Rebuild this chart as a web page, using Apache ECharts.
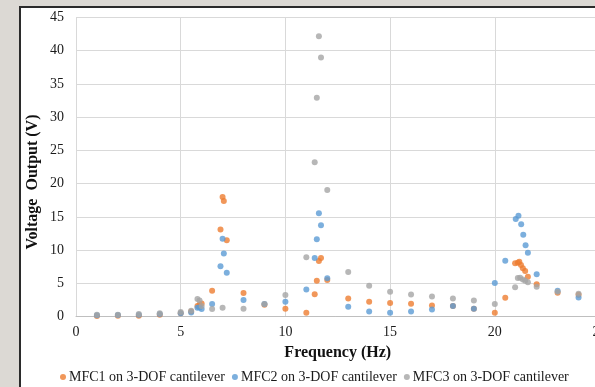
<!DOCTYPE html>
<html>
<head>
<meta charset="utf-8">
<script src="https://cdn.jsdelivr.net/npm/echarts@6/dist/echarts.min.js"></script>
<style>
  html, body { margin: 0; padding: 0; background: #dcd9d4; }
  #frame { position: absolute; left: 19px; top: 6px; width: 600px; height: 400px; background: #ffffff; border-left: 2px solid #2b2b2b; border-top: 2px solid #2b2b2b; }
  #chart { position: absolute; left: 0; top: 0; width: 595px; height: 387px; }
</style>
</head>
<body>
<div id="frame"></div>
<div id="chart"></div>
<script>
// ---- Data ----
const seriesNames = ["MFC1 on 3-DOF cantilever", "MFC2 on 3-DOF cantilever", "MFC3 on 3-DOF cantilever"];

const freqMFC1 = [1, 2, 3, 4, 5, 5.5, 5.8, 5.9, 6.0, 6.5, 6.9, 7.0, 7.06, 7.2, 8, 9, 10, 11, 11.4, 11.5, 11.6, 11.7, 12, 13, 14, 15, 16, 17, 18, 19, 20, 20.5, 20.97, 21.1, 21.17, 21.25, 21.34, 21.45, 21.58, 22, 23, 24];
const voltMFC1 = [0.1, 0.15, 0.15, 0.3, 0.5, 0.8, 1.6, 1.8, 2.0, 3.9, 13.1, 18.0, 17.4, 11.5, 3.55, 1.8, 1.2, 0.6, 3.37, 5.42, 8.38, 8.83, 5.5, 2.75, 2.25, 2.05, 1.95, 1.7, 1.6, 1.2, 0.6, 2.86, 8.03, 8.1, 8.27, 7.77, 7.28, 6.87, 6.02, 4.87, 3.6, 3.3];

const freqMFC2 = [1, 2, 3, 4, 5, 5.5, 5.8, 5.9, 6.0, 6.5, 6.9, 7.0, 7.06, 7.2, 8, 9, 10, 11, 11.4, 11.5, 11.6, 11.7, 12, 13, 14, 15, 16, 17, 18, 19, 20, 20.5, 21.0, 21.13, 21.26, 21.36, 21.47, 21.58, 22, 23, 24];
const voltMFC2 = [0.2, 0.25, 0.3, 0.4, 0.5, 0.65, 1.35, 1.4, 1.15, 1.9, 7.6, 11.7, 9.5, 6.6, 2.5, 1.9, 2.25, 4.1, 8.83, 11.64, 15.55, 13.74, 5.77, 1.5, 0.8, 0.6, 0.8, 1.1, 1.6, 1.2, 5.07, 8.42, 14.69, 15.19, 13.89, 12.33, 10.73, 9.62, 6.37, 3.9, 2.9];

const freqMFC3 = [1, 2, 3, 4, 5, 5.5, 5.8, 5.9, 6.0, 6.5, 7.0, 8, 9, 10, 11, 11.4, 11.5, 11.6, 11.7, 12, 13, 14, 15, 16, 17, 18, 19, 20, 20.97, 21.1, 21.21, 21.34, 21.45, 21.58, 22, 23, 24];
const voltMFC3 = [0.3, 0.3, 0.4, 0.5, 0.7, 0.9, 2.65, 2.45, 1.6, 1.15, 1.35, 1.2, 1.9, 3.25, 8.93, 23.2, 32.9, 42.15, 38.95, 19.05, 6.7, 4.65, 3.75, 3.35, 3.05, 2.75, 2.45, 1.9, 4.42, 5.8, 5.87, 5.6, 5.41, 5.16, 4.5, 3.75, 3.45];

const xTicks = { min: 0, max: 25, interval: 5 };
const yTicks = { min: 0, max: 45, interval: 5 };

const xTitle = "Frequency (Hz)";
const yTitle = "Voltage  Output (V)";

// ---- Chart ----
const colors = ["#ED7D31", "#5B9BD5", "#A5A5A5"];
const font = "'Liberation Serif', 'Times New Roman', serif";
const pairs = (xs, ys) => xs.map((x, i) => [x, ys[i]]);
const allData = [pairs(freqMFC1, voltMFC1), pairs(freqMFC2, voltMFC2), pairs(freqMFC3, voltMFC3)];

const chart = echarts.init(document.getElementById('chart'), null, { renderer: 'canvas' });
chart.setOption({
  animation: false,
  backgroundColor: 'transparent',
  color: colors,
  grid: { left: 76, top: 17.3, width: 523.5, height: 299.4, containLabel: false, outerBoundsMode: 'none' },
  xAxis: {
    type: 'value', min: xTicks.min, max: xTicks.max, interval: xTicks.interval,
    name: xTitle, nameLocation: 'middle', nameGap: 26,
    nameTextStyle: { fontFamily: font, fontSize: 16, fontWeight: 'bold', color: '#111' },
    axisLine: { show: true, lineStyle: { color: '#bfbfbf', width: 1 } },
    axisTick: { show: false },
    axisLabel: { fontFamily: font, fontSize: 14, color: '#1a1a1a', margin: 9, hideOverlap: false },
    splitLine: { show: true, lineStyle: { color: '#d9d9d9', width: 1 } }
  },
  yAxis: {
    type: 'value', min: yTicks.min, max: yTicks.max, interval: yTicks.interval,
    axisLine: { show: false },
    axisTick: { show: false },
    axisLabel: { fontFamily: font, fontSize: 14, color: '#1a1a1a', margin: 12 },
    splitLine: { show: true, lineStyle: { color: '#d9d9d9', width: 1 } }
  },
  legend: {
    left: 55, top: 365,
    icon: 'circle', itemWidth: 6, itemHeight: 6, itemGap: 7,
    textStyle: { fontFamily: font, fontSize: 14, color: '#1a1a1a', padding: [0, 0, 0, -2] },
    data: seriesNames
  },
  graphic: [{
    type: 'text',
    x: 33, y: 182,
    rotation: Math.PI / 2,
    style: { text: yTitle, font: "bold 16px 'Liberation Serif', 'Times New Roman', serif", fill: '#111', textAlign: 'center', textVerticalAlign: 'middle' }
  }],
  series: seriesNames.map((n, i) => ({
    name: n, type: 'scatter', symbol: 'circle', symbolSize: 6,
    itemStyle: { color: colors[i] },
    data: allData[i]
  }))
});
</script>
</body>
</html>
